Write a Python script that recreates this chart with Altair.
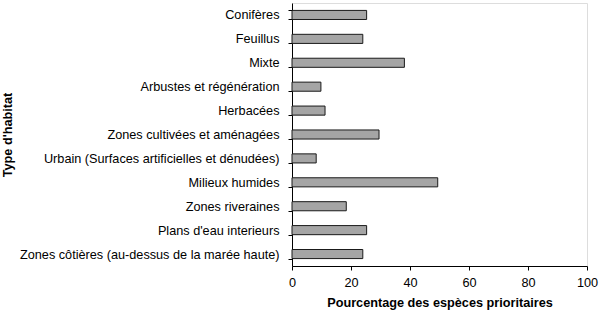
import altair as alt
import pandas as pd

categories = [
    "Conifères",
    "Feuillus",
    "Mixte",
    "Arbustes et régénération",
    "Herbacées",
    "Zones cultivées et aménagées",
    "Urbain (Surfaces artificielles et dénudées)",
    "Milieux humides",
    "Zones riveraines",
    "Plans d'eau interieurs",
    "Zones côtières (au-dessus de la marée haute)",
]
values = [25.3, 24.0, 38.1, 9.8, 11.2, 29.5, 8.2, 49.4, 18.4, 25.3, 24.0]
x_ticks = [0, 20, 40, 60, 80, 100]

df = pd.DataFrame({"habitat": categories, "pct": values})

FONT = "Liberation Sans"

chart = alt.Chart(df).mark_bar(
    color="#a5a5a5", stroke="#1a1a1a", strokeWidth=1
).encode(
    x=alt.X(
        "pct:Q",
        scale=alt.Scale(domain=[0, 100], nice=False),
        axis=alt.Axis(
            title="Pourcentage des espèces prioritaires",
            values=x_ticks,
            grid=False,
            labelFlush=False,
            domainColor="#000000",
            tickColor="#000000",
            tickSize=4,
            labelFontSize=12.7,
            labelColor="#000000",
            labelFont=FONT,
            labelPadding=6,
            titleFont=FONT,
            titleFontSize=12.7,
            titleFontWeight="bold",
            titleColor="#000000",
            titlePadding=8,
        ),
    ),
    y=alt.Y(
        "habitat:N",
        sort=categories,
        scale=alt.Scale(paddingInner=0.62, paddingOuter=0.31),
        axis=alt.Axis(
            title="Type d'habitat",
            tickBand="extent",
            domainColor="#000000",
            tickColor="#000000",
            tickSize=4,
            labelFontSize=12.7,
            labelColor="#000000",
            labelFont=FONT,
            labelPadding=9,
            labelLimit=300,
            titleFont=FONT,
            titleFontSize=12.7,
            titleFontWeight="bold",
            titleColor="#000000",
            titleX=-278,
            titleY=131.5,
            titleAngle=270,
            titleAlign="center",
            titleBaseline="bottom",
        ),
    ),
).properties(
    width=295,
    height=263,
    autosize=alt.AutoSizeParams(type="none"),
    padding={"left": 292, "top": 3, "right": 13, "bottom": 45},
).configure_view(stroke=None).configure(background="#ffffff")

chart.save("out.html", embed_options={"renderer": "svg", "actions": False})
